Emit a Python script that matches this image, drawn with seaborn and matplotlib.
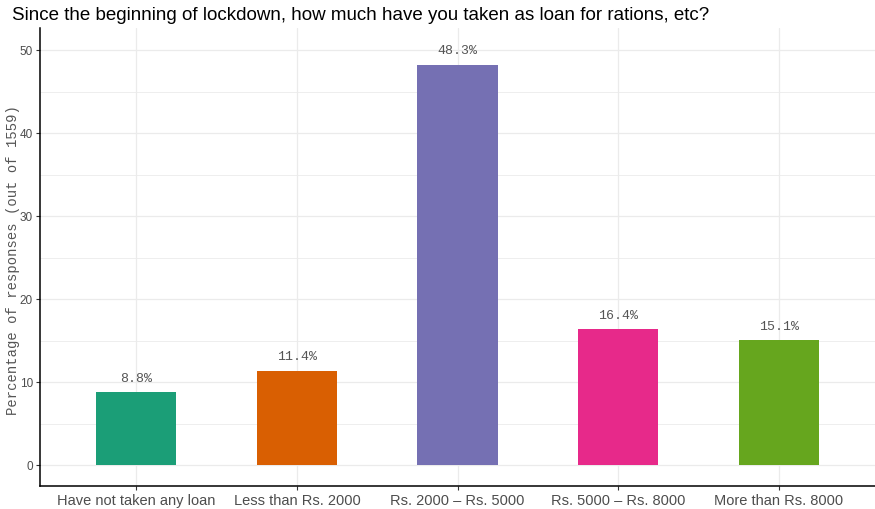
import matplotlib
matplotlib.use("Agg")
import matplotlib.pyplot as plt
import seaborn as sns
import pandas as pd
from matplotlib.ticker import MultipleLocator

categories = [
    "Have not taken any loan",
    "Less than Rs. 2000",
    "Rs. 2000 \u2013 Rs. 5000",
    "Rs. 5000 \u2013 Rs. 8000",
    "More than Rs. 8000",
]
percentages = [8.8, 11.4, 48.3, 16.4, 15.1]
colors = ["#1B9E77", "#D95F02", "#7570B3", "#E7298A", "#66A61E"]

title = "Since the beginning of lockdown, how much have you taken as loan for rations, etc?"
ylabel = "Percentage of responses (out of 1559)"

df = pd.DataFrame({"category": categories, "pct": percentages})

sns.set_style("white")
plt.rcParams["font.family"] = ["Liberation Sans", "DejaVu Sans"]

fig = plt.figure(figsize=(8.75, 5.09), dpi=100)
ax = fig.add_axes([40 / 875, 23 / 509, 835 / 875, 458 / 509])

sns.barplot(data=df, x="category", y="pct", hue="category",
            palette=colors, width=0.5, legend=False, saturation=1,
            linewidth=0, edgecolor="none", ax=ax)

# grid like ggplot theme_bw
ax.yaxis.set_major_locator(MultipleLocator(10))
ax.yaxis.set_minor_locator(MultipleLocator(5))
ax.grid(True, which="major", color="#EBEBEB", linewidth=0.9)
ax.yaxis.grid(True, which="minor", color="#EBEBEB", linewidth=0.6)
ax.xaxis.grid(True, which="major", color="#EBEBEB", linewidth=0.9)
ax.set_axisbelow(True)

for i, v in enumerate(percentages):
    ax.text(i, v + 0.9, f"{v:.1f}%", ha="center", va="bottom",
            family="Liberation Mono", fontsize=9.5, color="#555555")

ax.set_xlim(-0.6, 4.6)
ax.set_ylim(-2.5, 52.7)

for s in ["top", "right"]:
    ax.spines[s].set_visible(False)
for s in ["left", "bottom"]:
    ax.spines[s].set_color("black")
    ax.spines[s].set_linewidth(1.1)

ax.tick_params(axis="x", which="major", length=3, color="#333333",
               labelsize=10.5, labelcolor="#4D4D4D", pad=3, bottom=True)
ax.tick_params(axis="y", which="major", length=3, color="#333333",
               labelsize=8.5, labelcolor="#4D4D4D", pad=2, left=True)
ax.tick_params(axis="y", which="minor", length=0)

ax.set_xlabel("")
ax.set_ylabel(ylabel, family="Liberation Mono", fontsize=10,
              color="#555555")
ax.yaxis.set_label_coords(-20 / 835, 0.493)

fig.text(12 / 875, 1 - 15 / 509, title, fontsize=13.5, va="center",
         ha="left", color="black")

fig.savefig("out.png", dpi=100)
